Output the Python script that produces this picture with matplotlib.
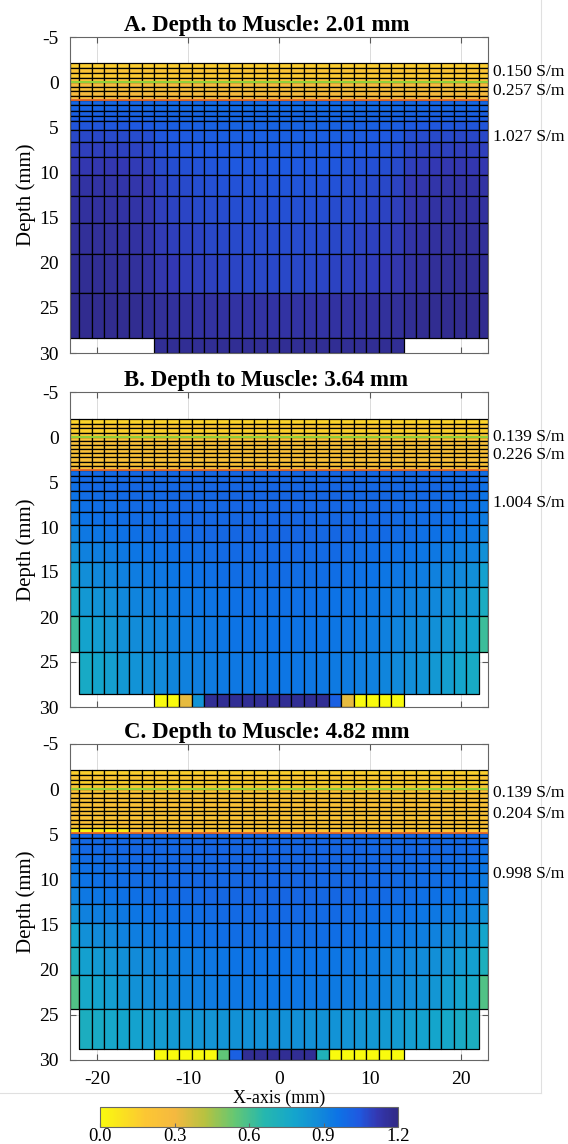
import numpy as np
import matplotlib.pyplot as plt
from matplotlib.collections import PolyCollection
from matplotlib.colors import LinearSegmentedColormap, Normalize
from matplotlib.lines import Line2D

plt.rcParams["font.family"] = ["Liberation Serif", "DejaVu Serif"]
plt.rcParams["axes.unicode_minus"] = False

# parula-like map from 0 S/m (yellow) to 1.2 S/m (navy)
cmap_pts = [
    (0.976, 0.983, 0.054), (0.990, 0.780, 0.200), (0.960, 0.725, 0.250),
    (0.720, 0.760, 0.250), (0.400, 0.780, 0.450), (0.150, 0.720, 0.680),
    (0.080, 0.650, 0.800), (0.070, 0.550, 0.850), (0.050, 0.450, 0.900),
    (0.120, 0.350, 0.880), (0.200, 0.220, 0.700), (0.190, 0.160, 0.520),
]
cmap_pos = [0.0, 0.15, 0.25, 0.35, 0.45, 0.55, 0.65, 0.73, 0.80, 0.87, 0.93, 1.0]
cmap = LinearSegmentedColormap.from_list("cond", list(zip(cmap_pos, cmap_pts)))
norm = Normalize(0.0, 1.2)

# mesh columns: two 1 mm side columns plus 32 columns of 1.375 mm
x_edges = np.concatenate(([-23.0], np.linspace(-22, 22, 33), [23.0]))
ncol = len(x_edges) - 1

# ---------------- panel A ----------------
a_title = "A. Depth to Muscle: 2.01 mm"
a_skin_edges = [-2.15, -1.6, -1.05, -0.5, 0.0]
a_skin_vals = [0.16, 0.22, 0.17, 0.22]
a_fat_edges = [0.0, 0.5, 1.0, 1.5, 2.01]
a_fat_vals = [0.28, 0.25, 0.29, 0.27]
a_muscle_edges = [2.01, 2.55, 3.15, 3.7, 4.25, 5.25, 6.65, 8.25, 10.25, 12.6, 15.55, 19.0, 23.3, 28.35]
a_muscle_center = [0.99, 0.99, 1.0, 1.0, 1.01, 1.02, 1.03, 1.04, 1.05, 1.06, 1.07, 1.08, 1.14]
a_muscle_edge = [1.0, 1.01, 1.02, 1.03, 1.05, 1.08, 1.1, 1.12, 1.14, 1.15, 1.16, 1.17, 1.18]
a_muscle_outer = a_muscle_edge
a_lateral = [1.0, 1.0, 1.0, 0.95, 0.9, 0.85, 0.75, 0.45, 0.35, 0.28, 0.2, 0.14, 0.1, 0.06, 0.03, 0.01, 0.0]
a_reduced_edges = []
a_reduced_center = []
a_reduced_edge = []
a_bottom_edges = [28.35, 30.0]
a_bottom_vals = [1.17] * 20
a_labels = ["0.150 S/m", "0.257 S/m", "1.027 S/m"]
a_label_y = [-1.17, 0.94, 6.1]

# ---------------- panel B ----------------
b_title = "B. Depth to Muscle: 3.64 mm"
b_skin_edges = [-2.0, -1.5, -1.0, -0.5, 0.0]
b_skin_vals = [0.14, 0.19, 0.15, 0.2]
b_fat_edges = [0.0, 0.455, 0.91, 1.365, 1.82, 2.275, 2.73, 3.185, 3.64]
b_fat_vals = [0.22, 0.25, 0.22, 0.25, 0.22, 0.25, 0.23, 0.26]
b_muscle_edges = [3.64, 4.29, 5.05, 5.97, 7.03, 8.32, 9.78, 11.65, 13.85, 16.67, 19.89, 23.88]
b_muscle_center = [1.0, 1.0, 1.0, 1.0, 1.0, 1.0, 1.0, 0.99, 0.98, 0.97, 0.96]
b_muscle_edge = [0.99, 0.99, 0.99, 0.98, 0.97, 0.96, 0.94, 0.91, 0.87, 0.83, 0.79]
b_muscle_outer = [0.98, 0.98, 0.97, 0.96, 0.95, 0.93, 0.9, 0.86, 0.8, 0.74, 0.62]
b_lateral = [1.0, 1.0, 0.85, 0.72, 0.6, 0.5, 0.41, 0.33, 0.26, 0.2, 0.15, 0.1, 0.07, 0.04, 0.02, 0.01, 0.0]
b_reduced_edges = [23.88, 28.57]
b_reduced_center = [0.95]
b_reduced_edge = [0.75]
b_bottom_edges = [28.57, 30.0]
b_bottom_vals = [0.0, 0.0, 0.33, 0.85] + [1.17] * 10 + [1.02, 0.33, 0.0, 0.0, 0.0, 0.0]
b_labels = ["0.139 S/m", "0.226 S/m", "1.004 S/m"]
b_label_y = [0.0, 2.0, 7.3]

# ---------------- panel C ----------------
c_title = "C. Depth to Muscle: 4.82 mm"
c_skin_edges = [-2.1, -1.58, -1.05, -0.52, 0.0]
c_skin_vals = [0.15, 0.19, 0.15, 0.2]
c_fat_edges = [0.0, 0.482, 0.964, 1.446, 1.928, 2.41, 2.892, 3.374, 3.856, 4.338, 4.82]
c_fat_vals = [0.21, 0.23, 0.21, 0.23, 0.21, 0.23, 0.21, 0.23, 0.21, 0.2]
c_fat_last_left = [0.03, 0.03, 0.06, 0.03, 0.06]
c_muscle_edges = [4.82, 5.40, 6.13, 7.15, 8.14, 9.34, 10.80, 12.70, 14.78, 17.45, 20.62, 24.38]
c_muscle_center = [1.0, 1.0, 1.0, 1.0, 1.0, 1.0, 1.0, 0.99, 0.98, 0.96, 0.95]
c_muscle_edge = [0.99, 0.99, 0.99, 0.98, 0.97, 0.96, 0.94, 0.91, 0.86, 0.8, 0.76]
c_muscle_outer = [0.98, 0.98, 0.97, 0.96, 0.95, 0.93, 0.9, 0.85, 0.78, 0.72, 0.58]
c_lateral = b_lateral
c_reduced_edges = [24.38, 28.83]
c_reduced_center = [0.86]
c_reduced_edge = [0.73]
c_bottom_edges = [28.83, 30.0]
c_bottom_vals = [0.0] * 5 + [0.55, 1.02] + [1.17] * 6 + [0.7] + [0.0] * 6
c_labels = ["0.139 S/m", "0.204 S/m", "0.998 S/m"]
c_label_y = [0.4, 2.8, 9.4]

panels = [
    dict(title=a_title, skin=(a_skin_edges, a_skin_vals), fat=(a_fat_edges, a_fat_vals),
         fat_left=[], muscle=(a_muscle_edges, a_muscle_center, a_muscle_edge, a_muscle_outer),
         lateral=a_lateral, reduced=(a_reduced_edges, a_reduced_center, a_reduced_edge),
         bottom=(a_bottom_edges, a_bottom_vals), labels=a_labels, label_y=a_label_y),
    dict(title=b_title, skin=(b_skin_edges, b_skin_vals), fat=(b_fat_edges, b_fat_vals),
         fat_left=[], muscle=(b_muscle_edges, b_muscle_center, b_muscle_edge, b_muscle_outer),
         lateral=b_lateral, reduced=(b_reduced_edges, b_reduced_center, b_reduced_edge),
         bottom=(b_bottom_edges, b_bottom_vals), labels=b_labels, label_y=b_label_y),
    dict(title=c_title, skin=(c_skin_edges, c_skin_vals), fat=(c_fat_edges, c_fat_vals),
         fat_left=c_fat_last_left, muscle=(c_muscle_edges, c_muscle_center, c_muscle_edge, c_muscle_outer),
         lateral=c_lateral, reduced=(c_reduced_edges, c_reduced_center, c_reduced_edge),
         bottom=(c_bottom_edges, c_bottom_vals), labels=c_labels, label_y=c_label_y),
]


def add_row(verts, vals, y0, y1, cols, row_vals):
    for c, v in zip(cols, row_vals):
        x0, x1 = x_edges[c], x_edges[c + 1]
        verts.append([(x0, y0), (x1, y0), (x1, y1), (x0, y1)])
        vals.append(v)


def build_mesh(p):
    verts, vals = [], []
    full = list(range(ncol))
    for edges, rv in (p["skin"], p["fat"]):
        for i, v in enumerate(rv):
            row = [v] * ncol
            if edges is p["fat"][0] and i == len(rv) - 1:
                for j, fv in enumerate(p["fat_left"]):
                    row[j] = fv
            add_row(verts, vals, edges[i], edges[i + 1], full, row)
    shape = np.array(p["lateral"] + p["lateral"][::-1])
    m_edges, m_c, m_e, m_o = p["muscle"]
    for i in range(len(m_c)):
        row = m_c[i] + (m_e[i] - m_c[i]) * shape
        row[0] = row[-1] = m_o[i]
        add_row(verts, vals, m_edges[i], m_edges[i + 1], full, row)
    r_edges, r_c, r_e = p["reduced"]
    for i in range(len(r_c)):
        row = r_c[i] + (r_e[i] - r_c[i]) * shape
        add_row(verts, vals, r_edges[i], r_edges[i + 1], full[1:-1], row[1:-1])
    b_edges, b_vals = p["bottom"]
    add_row(verts, vals, b_edges[0], b_edges[1], full[7:27], b_vals)
    return verts, vals


fig = plt.figure(figsize=(5.68, 11.44), dpi=100)
W, H = 568.0, 1144.0
tops = [37, 392, 744]
bottoms = [353, 707, 1060]

for k, p in enumerate(panels):
    ax = fig.add_axes([70 / W, 1 - bottoms[k] / H, 418 / W, (bottoms[k] - tops[k]) / H])
    verts, vals = build_mesh(p)
    pc = PolyCollection(verts, array=np.array(vals), cmap=cmap, norm=norm,
                        edgecolors="black", linewidths=0.9, zorder=2)
    ax.add_collection(pc)
    # skin/fat interface and fat/muscle interface
    ax.plot([-23, 23], [0, 0], color="#8fd03a", lw=1.5, zorder=3)
    ax.plot([-23, 23], [p["muscle"][0][0]] * 2, color="#ea6a2c", lw=1.3, zorder=3)

    ax.set_xlim(-23, 23)
    ax.set_ylim(30, -5)
    ax.set_xticks([-20, -10, 0, 10, 20])
    ax.set_yticks(range(-5, 31, 5))
    ax.grid(True, color="0.86", lw=0.7)
    ax.set_axisbelow(True)
    ax.tick_params(direction="in", length=4, color="0.35", labelsize=14, pad=8,
                   top=True, right=True)
    ax.tick_params(axis="x", pad=8)
    for s in ax.spines.values():
        s.set_color("0.4")
        s.set_linewidth(0.8)
        s.set_zorder(4)
    if k < 2:
        ax.set_xticklabels([])
    ax.set_ylabel("Depth (mm)", fontsize=15, labelpad=2)
    t = ax.set_title(p["title"], fontsize=16.5, fontweight="bold", pad=4)
    t.set_x(0.47)
    for txt, yy in zip(p["labels"], p["label_y"]):
        ax.text(23.5, yy, txt, fontsize=12.5, va="center", ha="left")

fig.text(279 / W, 1 - 1098 / H, "X-axis (mm)", ha="center", va="center", fontsize=13)

cax = fig.add_axes([100 / W, 1 - 1127 / H, 298 / W, 20 / H])
cb = fig.colorbar(plt.cm.ScalarMappable(norm=norm, cmap=cmap), cax=cax, orientation="horizontal")
cb.set_ticks([0.0, 0.3, 0.6, 0.9, 1.2])
cb.set_ticklabels(["0.0", "0.3", "0.6", "0.9", "1.2"])
cb.ax.tick_params(labelsize=13.5, direction="in", length=3, color="0.4", pad=1)
cb.outline.set_edgecolor("0.4")

# light frame around the figure area, behind the axes texts
fig.add_artist(Line2D([541 / W, 541 / W], [1 - 1093 / H, 1.0], color="0.88", lw=0.8, zorder=-1))
fig.add_artist(Line2D([0.0, 541 / W], [1 - 1093 / H, 1 - 1093 / H], color="0.88", lw=0.8, zorder=-1))

fig.savefig("out.png", dpi=100)
